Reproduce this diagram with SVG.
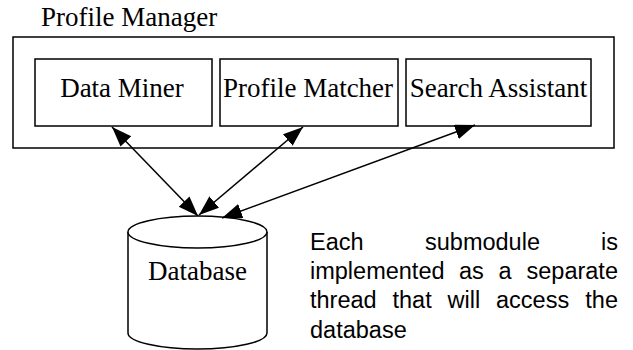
<svg xmlns="http://www.w3.org/2000/svg" width="633" height="350" viewBox="0 0 633 350">
  <style>
    .box { fill: #fff; stroke: #000; stroke-width: 1.5; }
    .serif { font-family: "Liberation Serif", "Times New Roman", serif; font-size: 27px; fill: #000; }
    .sans { font-family: "Liberation Sans", Arial, sans-serif; font-size: 23.5px; fill: #000; }
    .link { stroke: #000; stroke-width: 1.5; fill: none; marker-start: url(#head); marker-end: url(#head); }
  </style>
  <defs>
    <marker id="head" markerUnits="userSpaceOnUse" markerWidth="21" markerHeight="16" refX="20" refY="7.5" orient="auto-start-reverse">
      <path d="M0,0 L20,7.5 L0,15 z" fill="#000"/>
    </marker>
  </defs>

  <!-- container module -->
  <g id="profile-manager">
    <text class="serif" x="41" y="26">Profile Manager</text>
    <rect class="box" x="13" y="37" width="601" height="111"/>
  </g>

  <g id="data-miner">
    <rect class="box" x="35" y="59" width="177" height="67"/>
    <text class="serif" x="122" y="97" text-anchor="middle">Data Miner</text>
  </g>

  <g id="profile-matcher">
    <rect class="box" x="220" y="59" width="178" height="67"/>
    <text class="serif" x="308" y="97" text-anchor="middle">Profile Matcher</text>
  </g>

  <g id="search-assistant">
    <rect class="box" x="406" y="59" width="185" height="67"/>
    <text class="serif" x="498.5" y="97" text-anchor="middle">Search Assistant</text>
  </g>

  <!-- shared data store -->
  <g id="database">
    <path class="box" d="M128,232 L128,333 A69.5,16 0 0 0 267,333 L267,232"/>
    <ellipse class="box" cx="197.5" cy="232" rx="69.5" ry="16"/>
    <text class="serif" x="197.5" y="280" text-anchor="middle">Database</text>
  </g>

  <!-- two-way access links -->
  <g id="connectors">
    <line class="link" x1="112" y1="127" x2="198" y2="216"/>
    <line class="link" x1="303" y1="127" x2="199" y2="215"/>
    <line class="link" x1="475" y1="125" x2="222" y2="218"/>
  </g>

  <!-- note, justified between x=310 and x=618 -->
  <g id="note" class="sans">
    <text x="310" y="250">Each</text>
    <text x="425" y="250">submodule</text>
    <text x="601" y="250">is</text>
    <text x="310" y="279">implemented</text>
    <text x="459" y="279">as</text>
    <text x="498.5" y="279">a</text>
    <text x="526.5" y="279">separate</text>
    <text x="310" y="308">thread</text>
    <text x="392.5" y="308">that</text>
    <text x="447.5" y="308">will</text>
    <text x="496" y="308">access</text>
    <text x="585.3" y="308">the</text>
    <text x="310" y="338">database</text>
  </g>
</svg>
